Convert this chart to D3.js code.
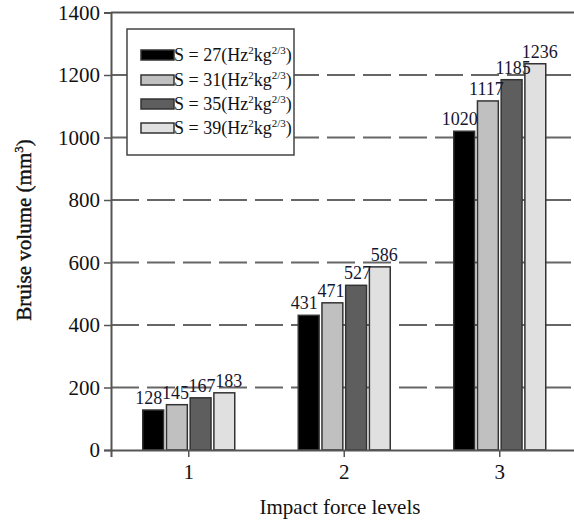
<!DOCTYPE html>
<html><head><meta charset="utf-8">
<script src="https://cdn.jsdelivr.net/npm/d3@7"></script>
<style>body{margin:0;background:#fff}svg{display:block}text{font-family:"Liberation Serif","Times New Roman",serif}</style>
</head><body>
<svg id="c" width="574" height="525"></svg>
<script>
const categories = ["1", "2", "3"];
const seriesNames = ["27", "31", "35", "39"];
const s27 = [128, 431, 1020];
const s31 = [145, 471, 1117];
const s35 = [167, 527, 1185];
const s39 = [183, 586, 1236];
const yTicks = [0, 200, 400, 600, 800, 1000, 1200, 1400];
const colors = ["#000000", "#c0c0c0", "#5e5e5e", "#e0e0e0"];

(function () {
const seriesVals = [s27, s31, s35, s39];
const svg = d3.select("#c");
const pLeft = 111, pRight = 577.5, pTop = 12.5, pBottom = 450;
const y = d3.scaleLinear().domain([0, 1400]).range([pBottom, pTop]);
const x0 = d3.scaleBand().domain(categories).range([pLeft, pRight]);
const gw = 92;
const x1 = d3.scaleBand().domain(seriesNames).range([0, gw]).paddingInner(0.12);
const inset = (x0.bandwidth() - gw) / 2;

// gridlines
svg.append("g").selectAll("line").data(yTicks.filter(t => t > 0 && t < 1400)).join("line")
  .attr("x1", pLeft).attr("x2", 574).attr("y1", d => y(d)).attr("y2", d => y(d))
  .attr("stroke", "#666").attr("stroke-width", 2).attr("stroke-dasharray", "28,8");
// top frame
svg.append("line").attr("x1", pLeft).attr("x2", 574).attr("y1", y(1400)).attr("y2", y(1400))
  .attr("stroke", "#555").attr("stroke-width", 2);

// bars
const gBars = svg.append("g");
categories.forEach((c, ci) => {
  seriesNames.forEach((s, si) => {
    const v = seriesVals[si][ci];
    const bx = x0(c) + inset + x1(s);
    gBars.append("rect").attr("x", bx).attr("y", y(v))
      .attr("width", x1.bandwidth()).attr("height", y(0) - y(v))
      .attr("fill", colors[si]).attr("stroke", "#333").attr("stroke-width", 1.5);
  });
});
// value labels (slightly spread apart so neighbours do not collide)
categories.forEach((c, ci) => {
  seriesNames.forEach((s, si) => {
    const v = seriesVals[si][ci];
    const bx = x0(c) + inset + x1(s) + x1.bandwidth() / 2 + (si - 1.5) * 3;
    svg.append("text").attr("x", bx).attr("y", y(v) - 6)
      .attr("text-anchor", "middle").attr("font-size", 18).attr("fill", "#161630").text(v);
  });
});

// y axis
const yAxis = d3.axisLeft(y).tickValues(yTicks).tickSize(7).tickPadding(4).tickFormat(d3.format("d"));
const ya = svg.append("g").attr("transform", `translate(${pLeft},0)`).call(yAxis);
ya.select(".domain").attr("stroke", "#555").attr("stroke-width", 2);
ya.selectAll(".tick line").attr("stroke", "#555").attr("stroke-width", 1.5);
ya.selectAll(".tick text").attr("font-size", 21).attr("fill", "#111").attr("font-family", "Liberation Serif, serif");

// x axis
const xAxis = d3.axisBottom(x0).tickSize(7).tickPadding(7);
const xa = svg.append("g").attr("transform", `translate(0,${pBottom})`).call(xAxis);
xa.select(".domain").attr("stroke", "#555").attr("stroke-width", 2);
xa.selectAll(".tick line").attr("stroke", "#555").attr("stroke-width", 1.5);
xa.selectAll(".tick text").attr("font-size", 21).attr("fill", "#111").attr("font-family", "Liberation Serif, serif");

// axis titles
const yt = svg.append("text").attr("transform", "translate(31,230) rotate(-90)")
  .attr("text-anchor", "middle").attr("font-size", 21).attr("fill", "#111")
  .attr("stroke", "#111").attr("stroke-width", 0.4);
yt.append("tspan").text("Bruise volume (mm");
yt.append("tspan").attr("font-size", 13).attr("dy", -8).text("3");
yt.append("tspan").attr("dy", 8).text(")");
svg.append("text").attr("x", 340).attr("y", 514).attr("text-anchor", "middle")
  .attr("font-size", 21).attr("fill", "#111").text("Impact force levels");

// legend
const lg = svg.append("g");
lg.append("rect").attr("x", 127).attr("y", 29).attr("width", 167).attr("height", 126)
  .attr("fill", "#fff").attr("stroke", "#444").attr("stroke-width", 1.5);
const rowY = [55, 80, 104, 128];
seriesNames.forEach((s, i) => {
  lg.append("rect").attr("x", 141).attr("y", rowY[i] - 5).attr("width", 33).attr("height", 10)
    .attr("fill", colors[i]).attr("stroke", "#333").attr("stroke-width", 1.5);
  const t = lg.append("text").attr("x", 174).attr("y", rowY[i] + 6).attr("font-size", 18).attr("fill", "#111");
  t.append("tspan").text(`S = ${s}(Hz`);
  t.append("tspan").attr("font-size", 11).attr("dy", -7).text("2");
  t.append("tspan").attr("dy", 7).text("kg");
  t.append("tspan").attr("font-size", 11).attr("dy", -7).text("2/3");
  t.append("tspan").attr("dy", 7).text(")");
});
})();
</script>
</body></html>
